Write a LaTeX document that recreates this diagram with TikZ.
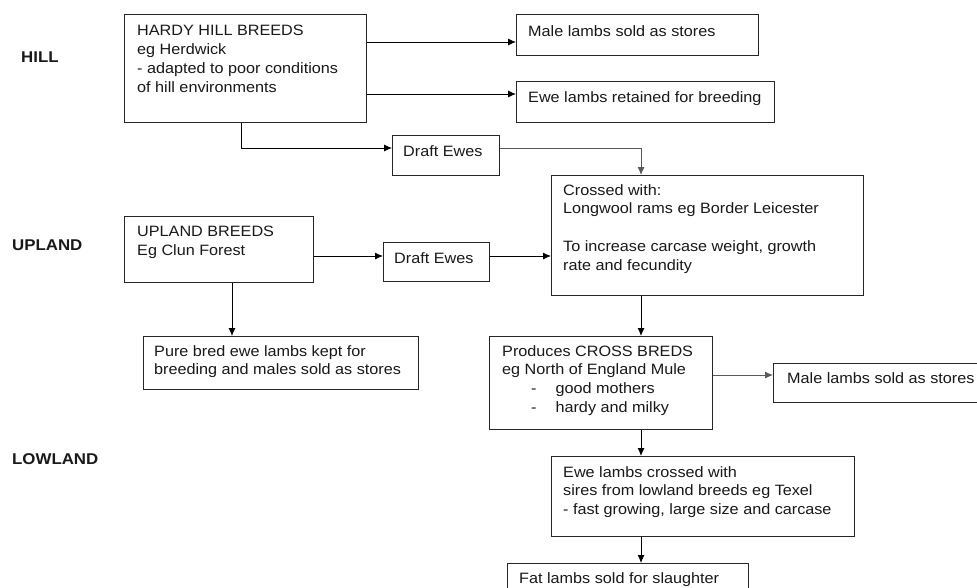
\documentclass[tikz,border=0pt]{standalone}
\usepackage{fontspec}
\setmainfont{Liberation Sans}[FakeStretch=1.08]
\usetikzlibrary{arrows.meta,calc}
\begin{document}
\begin{tikzpicture}[x=1pt,y=-1pt,
  every node/.style={font=\fontsize{15}{18.8}\selectfont},
  box/.style={draw=black!85,line width=1.1pt,inner sep=0pt},
  txt/.style={anchor=north west,inner sep=0pt,align=left,text=black!90},
  lvl/.style={anchor=west,inner sep=0pt,font=\fontsize{15.6}{18}\selectfont\bfseries,text=black!90},
  arr/.style={draw=black,line width=0.9pt,-{Latex[length=8pt,width=7pt]}},
  garr/.style={arr,draw=black!65}]
\useasboundingbox (0,0) rectangle (977,587);
\fill[white] (0,0) rectangle (977,587);

% level labels
\node[lvl] (hill) at (21,57) {HILL};
\node[lvl] (upl) at (12,245) {UPLAND};
\node[lvl] (low) at (12,459) {LOWLAND};

% boxes
\node[box,anchor=north west,minimum width=242,minimum height=108] (hardy) at (124,14) {};
\node[txt] (hardyT) at (137,25) {HARDY HILL BREEDS\\eg Herdwick\\- adapted to poor conditions\\of hill environments};

\node[box,anchor=north west,minimum width=242,minimum height=41] (male1) at (516,14) {};
\node[txt] (male1T) at (528,25) {Male lambs sold as stores};

\node[box,anchor=north west,minimum width=258,minimum height=41] (ewe1) at (516,81) {};
\node[txt] (ewe1T) at (528,91) {Ewe lambs retained for breeding};

\node[box,anchor=north west,minimum width=107,minimum height=40] (draft1) at (392,135) {};
\node[txt] (draft1T) at (403,145) {Draft Ewes};

\node[box,anchor=north west,minimum width=312,minimum height=120] (crossed) at (551,175) {};
\node[txt] (crossedT) at (563,184) {Crossed with:\\Longwool rams eg Border Leicester\\[18.8pt]To increase carcase weight, growth\\rate and fecundity};

\node[box,anchor=north west,minimum width=189,minimum height=66] (upland) at (124,216) {};
\node[txt] (uplandT) at (137,226) {UPLAND BREEDS\\Eg Clun Forest};

\node[box,anchor=north west,minimum width=106,minimum height=39] (draft2) at (383,242) {};
\node[txt] (draft2T) at (394,252) {Draft Ewes};

\node[box,anchor=north west,minimum width=275,minimum height=53] (pure) at (143,336) {};
\node[txt] (pureT) at (154,345) {Pure bred ewe lambs kept for\\breeding and males sold as stores};

\node[box,anchor=north west,minimum width=223,minimum height=93] (prod) at (489,336) {};
\node[txt] (prodT) at (502,345) {Produces CROSS BREDS\\eg North of England Mule\\\hspace*{29pt}-\hspace*{19pt}good mothers\\\hspace*{29pt}-\hspace*{19pt}hardy and milky};

\node[box,anchor=north west,minimum width=230,minimum height=39] (male2) at (773,363) {};
\node[txt] (male2T) at (787,372) {Male lambs sold as stores};

\node[box,anchor=north west,minimum width=303,minimum height=80] (ewec) at (551,456) {};
\node[txt] (ewecT) at (563,466) {Ewe lambs crossed with\\sires from lowland breeds eg Texel\\- fast growing, large size and carcase};

\node[box,anchor=north west,minimum width=241,minimum height=40] (fat) at (507,563) {};
\node[txt] (fatT) at (519,572) {Fat lambs sold for slaughter};

% helper coordinates
\coordinate (y42) at (0,42);
\coordinate (y94) at (0,94);
\coordinate (y148) at (0,148);
\coordinate (x241) at (241,0);
\coordinate (x641) at (641,0);
\coordinate (x232) at (232,0);
\coordinate (y256) at (0,256);
\coordinate (y375) at (0,375);

% connectors
\draw[arr] (hardy.east |- y42) -- (male1.west |- y42);
\draw[arr] (hardy.east |- y94) -- (ewe1.west |- y94);
\draw[arr] (hardy.south -| x241) |- (draft1.west |- y148);
\draw[garr] (draft1.east |- y148) -| (crossed.north -| x641);
\draw[arr] (upland.east |- y256) -- (draft2.west |- y256);
\draw[arr] (draft2.east |- y256) -- (crossed.west |- y256);
\draw[arr] (upland.south -| x232) -- (pure.north -| x232);
\draw[arr] (crossed.south -| x641) -- (prod.north -| x641);
\draw[garr] (prod.east |- y375) -- (male2.west |- y375);
\draw[arr] (prod.south -| x641) -- (ewec.north -| x641);
\draw[arr] (ewec.south -| x641) -- (fat.north -| x641);
\end{tikzpicture}
\end{document}
